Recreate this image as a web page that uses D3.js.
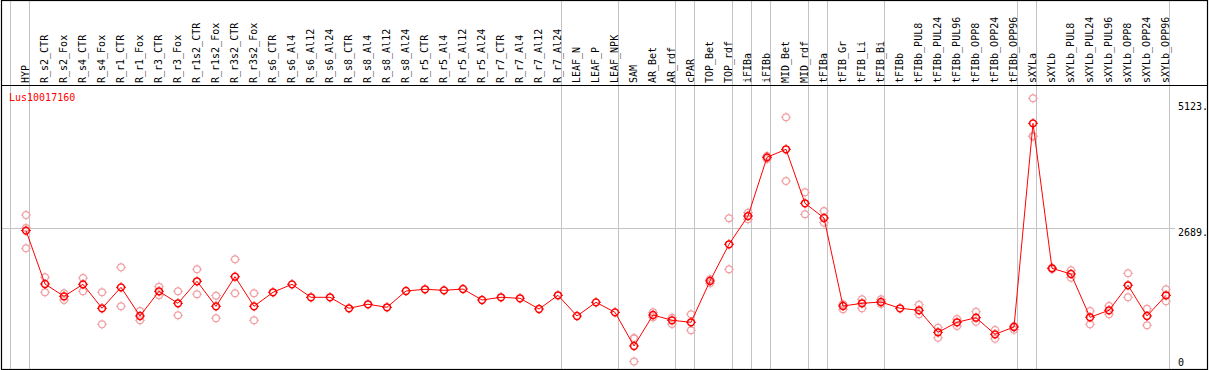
<!DOCTYPE html>
<html>
<head>
<meta charset="utf-8">
<script src="https://cdn.jsdelivr.net/npm/d3@7"></script>
<style>
  html, body { margin: 0; padding: 0; background: #fff; }
  svg { display: block; }
  text { font-family: "DejaVu Sans Mono", monospace; font-size: 10px; }
</style>
</head>
<body>
<svg id="chart" width="1209" height="370"></svg>
<script>
const title = "Lus10017160";

const categories = ["HYP","R_s2_CTR","R_s2_Fox","R_s4_CTR","R_s4_Fox","R_r1_CTR","R_r1_Fox","R_r3_CTR","R_r3_Fox",
  "R_r1s2_CTR","R_r1s2_Fox","R_r3s2_CTR","R_r3s2_Fox","R_s6_CTR","R_s6_Al4","R_s6_Al12","R_s6_Al24",
  "R_s8_CTR","R_s8_Al4","R_s8_Al12","R_s8_Al24","R_r5_CTR","R_r5_Al4","R_r5_Al12","R_r5_Al24",
  "R_r7_CTR","R_r7_Al4","R_r7_Al12","R_r7_Al24","LEAF_N","LEAF_P","LEAF_NPK","SAM","AR_Bet","AR_rdf",
  "cPAR","TOP_Bet","TOP_rdf","iFIBa","iFIBb","MID_Bet","MID_rdf","tFIBa","tFIB_Gr","tFIB_Li","tFIB_Bi",
  "tFIBb","tFIBb_PUL8","tFIBb_PUL24","tFIBb_PUL96","tFIBb_OPP8","tFIBb_OPP24","tFIBb_OPP96",
  "sXYLa","sXYLb","sXYLb_PUL8","sXYLb_PUL24","sXYLb_PUL96","sXYLb_OPP8","sXYLb_OPP24","sXYLb_OPP96"];

const means = [2645,1613,1375,1607,1144,1549,995,1472,1240,
  1665,1182,1754,1182,1453,1607,1356,1356,
  1144,1221,1163,1478,1511,1491,1516,1304,
  1356,1337,1130,1395,995,1259,1066,415,1014,912,
  873,1671,2380,2926,4060,4215,3172,2888,1188,1240,1265,
  1144,1105,680,873,962,641,782,
  4717,1916,1806,970,1105,1588,995,1395];

const replicates = [[2946,2695,2302],[1742,1453],[1433,1304],[1729,1472],[1453,834],[1935,1182],[1091,912],[1561,1395],[1472,1008],
  [1897,1414],[1387,950],[2090,1433],[1433,912],[],[],[],[],
  [],[],[],[],[],[],[],[],
  [],[],[],[],[],[],[],[560,570,115],[1066,970],[962,840],
  [1028,719],[1704,1626],[2882,1897],[2990,2863],[4085,4027],[4833,3602],[3384,2959],[3023,2797],[1221,1124],[1317,1144],[1317,1227],
  [],[1213,1028],[769,576],[937,802],[1078,885],[724,556],[802,730],
  [5200,4472,4462],[1928,1903],[1878,1735],[1091,834],[1188,1028],[1820,1356],[1136,815],[1511,1279]];

// column indices where group separator lines are drawn (boundaries)
const separators = [0,1,29,32,35,36,38,39,40,42,43,46,53,54,61];

const yTickValues = [5123, 2689, 0];
const yTickLabels = ["5123.", "2689.", "0"];
const gridValues = [2689];

const svg = d3.select("#chart");
const W = 1209, H = 370;
const plotLeft = 1, plotRight = 1207, plotTop = 0, plotBottom = 369, headerBottom = 85;
const colLeft = 11, colWidth = 19, pointOffset = 15;

const x = d3.scaleLinear().domain([0, categories.length]).range([colLeft, colLeft + colWidth * categories.length]);
const px = i => x(i) + pointOffset;
const y = d3.scaleLinear().domain([0, 5123]).range([367.5, 102.3]);

const gray = "#c4c4c4";
const red = "#ff0000";
const pink = "#f0a0a4";

// separator lines
svg.append("g").selectAll("line").data(separators).join("line")
  .attr("x1", d => x(d) - 0.5).attr("x2", d => x(d) - 0.5)
  .attr("y1", plotTop).attr("y2", plotBottom)
  .attr("stroke", gray).attr("stroke-width", 1);

// horizontal grid
svg.append("g").selectAll("line").data(gridValues).join("line")
  .attr("x1", plotLeft).attr("x2", 1175)
  .attr("y1", d => Math.round(y(d)) + 0.5).attr("y2", d => Math.round(y(d)) + 0.5)
  .attr("stroke", gray).attr("stroke-width", 1);

// header separator
svg.append("line").attr("x1", plotLeft).attr("x2", plotRight)
  .attr("y1", headerBottom + 0.5).attr("y2", headerBottom + 0.5)
  .attr("stroke", "#000").attr("stroke-width", 1);

// frame
svg.append("rect").attr("x", plotLeft + 0.5).attr("y", plotTop + 0.5)
  .attr("width", plotRight - plotLeft).attr("height", plotBottom - plotTop)
  .attr("fill", "none").attr("stroke", "#000").attr("stroke-width", 1.2);

// category labels
svg.append("g").selectAll("text").data(categories).join("text")
  .attr("transform", (d, i) => `translate(${px(i) + 2.8},83) rotate(-90)`)
  .attr("text-anchor", "start")
  .attr("fill", "#000")
  .text(d => d);

// title
svg.append("text").attr("x", 9).attr("y", 101).attr("fill", red).text(title);

// y labels
svg.append("g").selectAll("text").data(yTickValues).join("text")
  .attr("x", 1178)
  .attr("y", d => Math.min(y(d) + 8, 366.3))
  .attr("fill", "#000")
  .text((d, i) => yTickLabels[i]);

function marker(g, color, sw) {
  g.append("circle").attr("r", 3.4).attr("fill", "none").attr("stroke", color).attr("stroke-width", sw);
  const t = [[0,-3.4,0,-5],[0,3.4,0,5],[-3.4,0,-5,0],[3.4,0,5,0]];
  t.forEach(s => g.append("line").attr("x1", s[0]).attr("y1", s[1]).attr("x2", s[2]).attr("y2", s[3])
    .attr("stroke", color).attr("stroke-width", 1));
}

// replicates
const repPts = [];
replicates.forEach((arr, i) => arr.forEach(v => repPts.push({i, v})));
svg.append("g").selectAll("g").data(repPts).join("g")
  .attr("transform", d => `translate(${px(d.i)},${y(d.v)})`)
  .each(function() { marker(d3.select(this), pink, 1.2); });

// mean line
const line = d3.line().x((d, i) => px(i)).y(d => y(d));
svg.append("path").datum(means).attr("d", line)
  .attr("fill", "none").attr("stroke", red).attr("stroke-width", 1);

// mean markers
svg.append("g").selectAll("g").data(means).join("g")
  .attr("transform", (d, i) => `translate(${px(i)},${y(d)})`)
  .each(function() { marker(d3.select(this), red, 1.5); });
</script>
</body>
</html>
